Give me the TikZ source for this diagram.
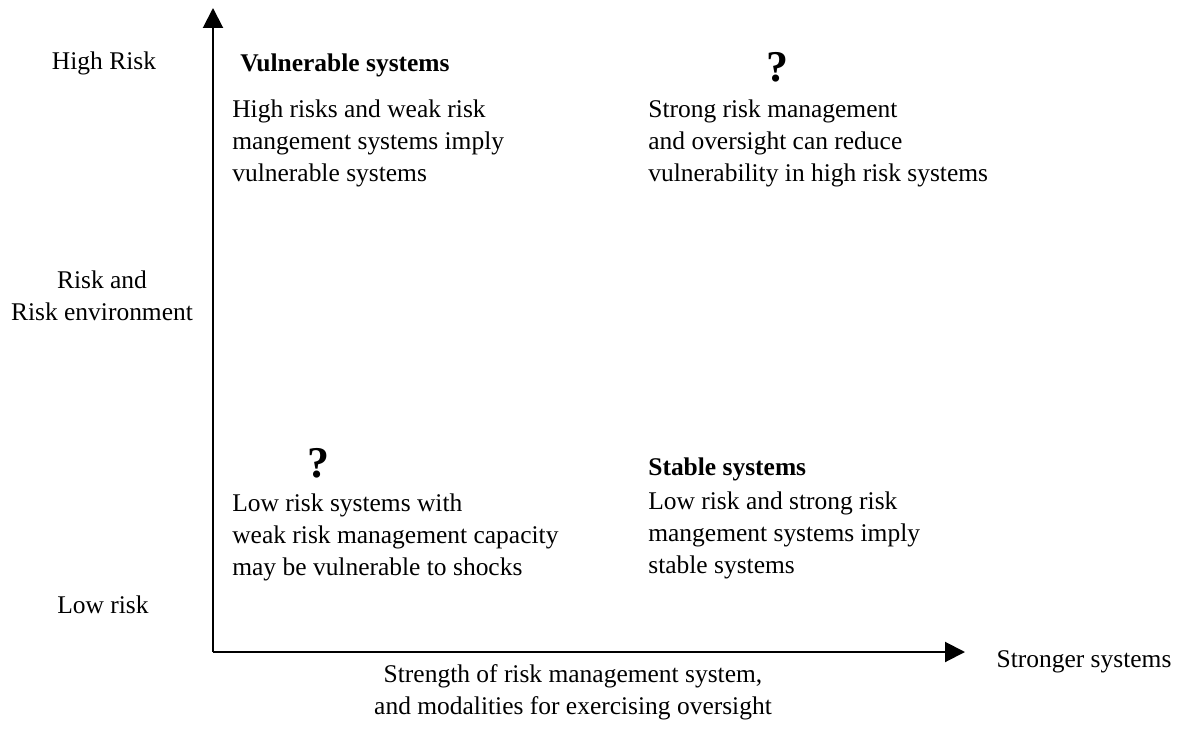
\documentclass[tikz,border=0pt]{standalone}
\usepackage{fontspec}
\setmainfont{Liberation Serif}
\usetikzlibrary{arrows.meta}
\tikzset{every node/.style={inner sep=0pt, font=\fontsize{14.5}{18.2}\selectfont},
 side text/.style={align=center},
 quad text/.style={anchor=west, align=left},
 quad title/.style={anchor=west, font=\fontsize{14.5}{18.2}\selectfont\bfseries},
 query/.style={font=\fontsize{25}{25}\selectfont\bfseries},
 axis/.style={line width=0.04cm, -{Triangle[length=0.4cm, width=0.4cm]}},
 }

\begin{document}
\begin{tikzpicture}[x=0.02cm, y=-0.02cm]
        \useasboundingbox (0, 0) rectangle (1189, 729);

        % axes
        \coordinate (origin) at (213, 652);
        \coordinate (ytip) at (213, 8);
        \coordinate (xtip) at (965, 652);
        \draw[axis] (origin) -- (ytip);
        \draw[axis] (origin) -- (xtip);

        % left side
        \node[side text] (highrisk) at (104, 63) {High Risk};
        \node[side text] (riskenv) at (102, 296) {Risk and\\Risk environment};
        \node[side text] (lowrisk) at (103, 605) {Low risk};

        % upper quadrants
        \node[quad title] (vultitle) at (240, 65) {Vulnerable systems};
        \node[quad text] (vultext) at (232, 143) {High risks and weak risk\\mangement systems imply\\vulnerable systems};
        \node[query] (qhigh) at (777, 67) {?};
        \node[quad text] (strongtext) at (648, 143) {Strong risk management\\and oversight can reduce\\vulnerability in high risk systems};

        % lower quadrants
        \node[query] (qlow) at (318, 463) {?};
        \node[quad text] (lowtext) at (232, 537) {Low risk systems with\\weak risk management capacity\\may be vulnerable to shocks};
        \node[quad title] (stabletitle) at (648, 469) {Stable systems};
        \node[quad text] (stabletext) at (648, 535) {Low risk and strong risk\\mangement systems imply\\stable systems};

        % bottom
        \node[side text] (stronger) at (1084, 662) {Stronger systems};
        \node[side text] (strength) at (573, 692) {Strength of risk management system,\\and modalities for exercising oversight};
    \end{tikzpicture}
\end{document}
